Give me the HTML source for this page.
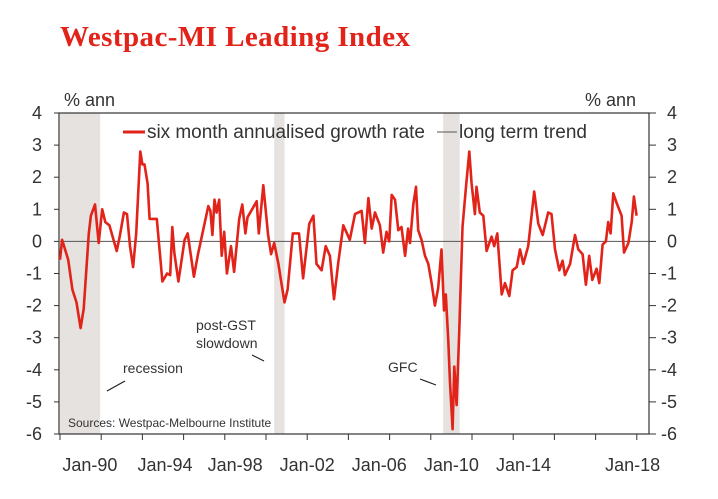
<!DOCTYPE html>
<html><head><meta charset="utf-8">
<style>
html,body{margin:0;padding:0;background:#fff;}
svg{display:block;font-family:"Liberation Sans",Arial,sans-serif;}
</style></head>
<body>
<svg id="chart" width="718" height="499" viewBox="0 0 718 499">
<text x="60" y="46" font-family="Liberation Serif, serif" font-weight="bold" font-size="29" textLength="350" fill="#e2231a">Westpac-MI Leading Index</text>
<g id="shade"></g>
<g id="axes"></g>
<path id="series" fill="none" stroke="#e2231a" stroke-width="2.6" stroke-linejoin="round"></path>
<g id="labels" fill="#333"></g>
</svg>
<script>
const years = [1990.0,1990.1,1990.4,1990.6,1990.8,1991.0,1991.15,1991.4,1991.5,1991.7,1991.88,1992.05,1992.2,1992.4,1992.75,1992.9,1993.1,1993.25,1993.4,1993.55,1993.7,1993.9,1994.0,1994.1,1994.25,1994.35,1994.7,1994.97,1995.2,1995.35,1995.45,1995.55,1995.75,1995.9,1996.05,1996.2,1996.5,1996.7,1997.2,1997.3,1997.4,1997.5,1997.6,1997.73,1997.85,1997.97,1998.1,1998.3,1998.45,1998.7,1998.85,1999.0,1999.1,1999.55,1999.65,1999.87,2000.1,2000.25,2000.4,2000.6,2000.9,2001.05,2001.3,2001.6,2001.8,2002.1,2002.3,2002.45,2002.7,2002.9,2003.1,2003.3,2003.5,2003.75,2004.07,2004.32,2004.64,2004.8,2004.97,2005.13,2005.29,2005.53,2005.69,2005.85,2005.98,2006.1,2006.26,2006.42,2006.58,2006.75,2006.9,2006.99,2007.15,2007.28,2007.39,2007.55,2007.72,2007.88,2008.04,2008.2,2008.36,2008.52,2008.64,2008.73,2008.85,2008.93,2009.06,2009.14,2009.25,2009.38,2009.54,2009.71,2009.87,2009.98,2010.14,2010.22,2010.38,2010.55,2010.71,2010.95,2011.08,2011.23,2011.44,2011.6,2011.81,2011.97,2012.17,2012.33,2012.49,2012.73,2013.02,2013.22,2013.43,2013.7,2013.86,2014.03,2014.24,2014.4,2014.51,2014.76,2015.0,2015.16,2015.37,2015.53,2015.69,2015.84,2016.05,2016.18,2016.34,2016.5,2016.61,2016.73,2016.86,2017.02,2017.26,2017.38,2017.59,2017.75,2017.86,2017.99];
const values = [-0.57,0.05,-0.57,-1.5,-1.9,-2.7,-2.1,0.25,0.8,1.15,-0.05,1.0,0.6,0.5,-0.3,0.15,0.9,0.85,-0.15,-0.8,0.25,2.8,2.4,2.4,1.8,0.7,0.7,-1.25,-1.0,-1.05,0.45,-0.35,-1.25,-0.6,0.05,0.25,-1.1,-0.4,1.1,0.95,0.2,1.3,0.9,1.3,-0.45,0.3,-1.0,-0.15,-0.95,0.7,1.15,0.25,0.75,1.25,0.25,1.75,0.2,-0.4,-0.05,-0.7,-1.9,-1.5,0.25,0.25,-1.15,0.55,0.8,-0.7,-0.9,-0.15,-0.45,-1.8,-0.7,0.5,0.05,0.85,0.95,-0.05,1.35,0.4,0.9,0.5,-0.35,0.3,0.0,1.45,1.3,0.35,0.45,-0.45,0.4,-0.05,1.15,1.7,0.35,0.05,-0.45,-0.7,-1.3,-2.0,-1.45,-0.25,-2.15,-1.65,-3.1,-4.4,-5.85,-3.9,-5.1,-2.85,0.45,1.7,2.8,1.8,0.85,1.7,0.9,0.8,-0.3,0.15,-0.15,0.25,-1.65,-1.3,-1.7,-0.9,-0.8,-0.25,-0.7,-0.15,1.55,0.55,0.2,0.9,0.85,-0.25,-0.9,-0.6,-1.05,-0.7,0.2,-0.25,-0.4,-1.35,-0.45,-1.2,-0.85,-1.3,-0.1,0.0,0.6,0.25,1.5,1.2,0.8,-0.35,-0.05,0.6,1.4,0.8];
const yTicks = [4,3,2,1,0,-1,-2,-3,-4,-5,-6];
const xLabels = ["Jan-90","Jan-94","Jan-98","Jan-02","Jan-06","Jan-10","Jan-14","Jan-18"];
const xLabelYears = [1991.45,1995.1,1998.5,2002.0,2005.5,2009.0,2012.5,2017.8];
const shadeStart = [1990.0,2000.4,2008.6];
const shadeEnd = [1991.95,2000.9,2009.4];

const NS="http://www.w3.org/2000/svg";
const X0=60,X1=649,Y0=113,Y1=434;
const xs=t=>X0+(t-1990)*20.6;
const ys=v=>Y0+(4-v)*(Y1-Y0)/10;
function mk(tag,attrs,parent){const e=document.createElementNS(NS,tag);for(const k in attrs)e.setAttribute(k,attrs[k]);parent.appendChild(e);return e;}
const shade=document.getElementById('shade'),axes=document.getElementById('axes'),labels=document.getElementById('labels');
shadeStart.forEach((s,i)=>{
  const r=mk('rect',{x:xs(s),y:Y0,width:xs(shadeEnd[i])-xs(s),height:Y1-Y0,fill:'#e5e2df'},shade);
  
  
});
const frame=mk('rect',{x:X0-1,y:Y0,width:X1-X0+1,height:Y1-Y0,fill:'none',stroke:'#333','stroke-width':1.2},axes);


const zl=mk('line',{x1:X0,x2:X1,y1:ys(0),y2:ys(0),stroke:'#555','stroke-width':1},axes);


yTicks.forEach(v=>{
  const y=ys(v);
  mk('line',{x1:X0-6,x2:X0-1,y1:y,y2:y,stroke:'#333'},axes);
  mk('line',{x1:X1,x2:X1+7,y1:y,y2:y,stroke:'#333'},axes);
  const a=mk('text',{x:42,y:y+6,'text-anchor':'end','font-size':18},labels);a.textContent=v;
  
  
  const b=mk('text',{x:v<0?661:667,y:y+6,'font-size':18},labels);b.textContent=v;
  
  
});
for(let yr=1990;yr<=2018;yr+=2){const x=xs(yr);mk('line',{x1:x,x2:x,y1:Y1,y2:Y1+6,stroke:'#333'},axes);}
xLabels.forEach((l,i)=>{
  const t=mk('text',{x:xs(xLabelYears[i]),y:471,'text-anchor':'middle','font-size':18},labels);t.textContent=l;
  
  
});
document.getElementById('series').setAttribute('d',years.map((t,i)=>(i?'L':'M')+xs(t).toFixed(1)+','+ys(values[i]).toFixed(1)).join(''));
function txt(x,y,s,sz,name,anchor){const t=mk('text',{x:x,y:y,'font-size':sz,'text-anchor':anchor||'start'},labels);t.textContent=s;
  
  return t;}
txt(64,106,'% ann',18,'y-axis-title-left');
txt(585,106,'% ann',18,'y-axis-title-right');
const l1=mk('line',{x1:123,x2:145,y1:132,y2:132,stroke:'#e2231a','stroke-width':3},labels);


txt(147,138,'six month annualised growth rate',19,'legend-entry-growth').setAttribute('textLength','278');
const l2=mk('line',{x1:437,x2:457,y1:132,y2:132,stroke:'#555','stroke-width':1},labels);


txt(459,138,'long term trend',19,'legend-entry-trend').setAttribute('textLength','128');
txt(123,373,'recession',14,'recession-label');
mk('line',{x1:107,y1:391,x2:125,y2:381,stroke:'#222','stroke-width':1.2},labels);
txt(196,330,'post-GST',14,'post-gst-label');
txt(196,348,'slowdown',14,'slowdown-label');
mk('line',{x1:252,y1:355,x2:264,y2:361,stroke:'#222','stroke-width':1.2},labels);
txt(388,372,'GFC',14,'gfc-label');
mk('line',{x1:420,y1:379,x2:436,y2:385,stroke:'#222','stroke-width':1.2},labels);
txt(68,427,'Sources: Westpac-Melbourne Institute',12,'source-note');
</script>
</body></html>
